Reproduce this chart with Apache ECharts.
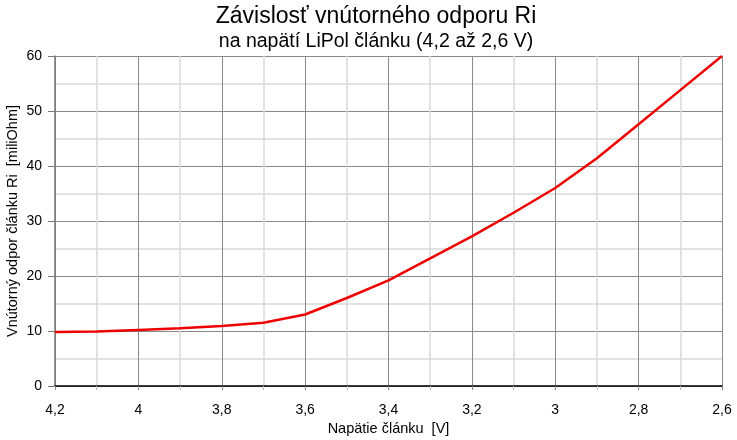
<!DOCTYPE html>
<html>
<head>
<meta charset="utf-8">
<script src="https://cdn.jsdelivr.net/npm/echarts@6/dist/echarts.min.js"></script>
<style>html,body{margin:0;padding:0;background:#fff}#c{width:737px;height:440px}</style>
</head>
<body>
<div id="c"></div>
<script>
var voltages = [4.2, 4.1, 4.0, 3.9, 3.8, 3.7, 3.6, 3.5, 3.4, 3.3, 3.2, 3.1, 3.0, 2.9, 2.8, 2.7, 2.6];
var resistance = [9.8, 9.9, 10.2, 10.5, 10.9, 11.5, 13.0, 16.0, 19.2, 23.2, 27.2, 31.5, 36.0, 41.4, 47.6, 53.8, 60.0];
var titleText = 'Závislosť vnútorného odporu Ri';
var subtitleText = 'na napätí LiPol článku (4,2 až 2,6 V)';
var xName = 'Napätie článku  [V]';
var yName = 'Vnútorný odpor článku Ri  [miliOhm]';

var chart = echarts.init(document.getElementById('c'));
var font = 'Liberation Sans, Arial, sans-serif';
chart.setOption({
  animation: false,
  backgroundColor: '#fff',
  title: {
    text: titleText,
    subtext: subtitleText,
    left: 371, textAlign: 'center', top: 0,
    itemGap: 4,
    textStyle: {fontFamily: font, fontSize: 23, fontWeight: 'normal', color: '#000'},
    subtextStyle: {fontFamily: font, fontSize: 19.5, color: '#000'}
  },
  grid: {left: 55, right: 15, top: 56, bottom: 54, outerBoundsMode: 'none', containLabel: false},
  xAxis: {
    type: 'value', inverse: true, min: 2.6, max: 4.2, interval: 0.2,
    name: xName, nameLocation: 'middle', nameGap: 35, nameMoveOverlap: false,
    nameTextStyle: {fontFamily: font, fontSize: 14.5, color: '#000'},
    axisLine: {show: true, onZero: false, lineStyle: {color: '#000', width: 1.5}},
    axisTick: {show: true, length: 4, lineStyle: {color: '#888'}},
    minorTick: {show: true, splitNumber: 2, length: 4, lineStyle: {color: '#bbb'}},
    axisLabel: {fontFamily: font, fontSize: 14, color: '#000', margin: 17,
      formatter: function (v) { return String(Math.round(v * 10) / 10).replace('.', ','); }},
    splitLine: {show: true, lineStyle: {color: '#8a8a8a', width: 1}},
    minorSplitLine: {show: true, lineStyle: {color: '#d9d9d9', width: 1.5}}
  },
  yAxis: {
    type: 'value', min: 0, max: 60, interval: 10,
    name: yName, nameLocation: 'middle', nameGap: 35, nameMoveOverlap: false,
    nameTextStyle: {fontFamily: font, fontSize: 14.5, color: '#000'},
    axisLine: {show: true, lineStyle: {color: '#777', width: 1.5}},
    axisTick: {show: true, length: 7, lineStyle: {color: '#777'}},
    axisLabel: {fontFamily: font, fontSize: 14, color: '#000', margin: 13},
    splitLine: {show: true, lineStyle: {color: '#8a8a8a', width: 1}},
    minorTick: {show: false, splitNumber: 2},
    minorSplitLine: {show: true, lineStyle: {color: '#d9d9d9', width: 1.5}}
  },
  series: [{
    type: 'line',
    data: voltages.map(function (v, i) { return [v, resistance[i]]; }),
    showSymbol: false,
    smooth: false,
    lineStyle: {color: '#ee0000', width: 2.5},
    z: 5
  }]
});
</script>
</body>
</html>
